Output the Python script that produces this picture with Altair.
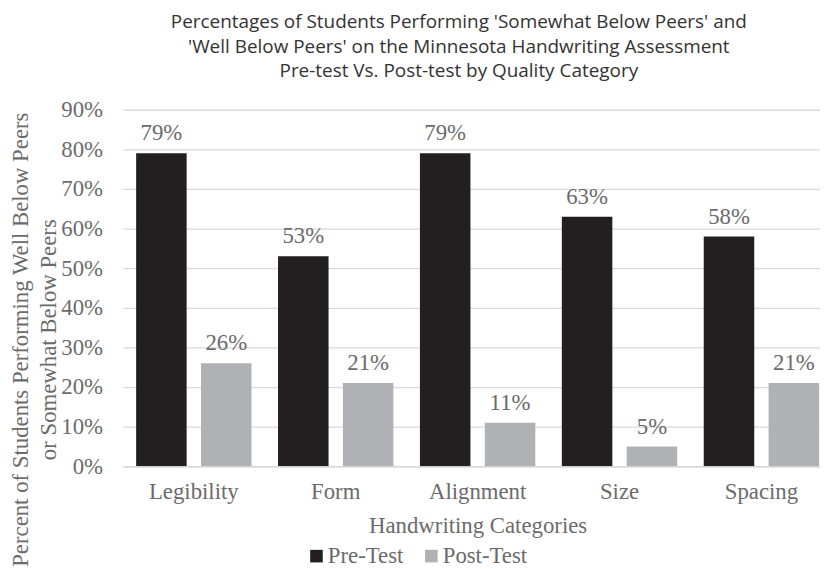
import altair as alt
import pandas as pd

categories = ["Legibility", "Form", "Alignment", "Size", "Spacing"]
series = ["Pre-Test", "Post-Test"]
pre_test = [0.79, 0.53, 0.79, 0.63, 0.58]
post_test = [0.26, 0.21, 0.11, 0.05, 0.21]
y_ticks = [0.0, 0.1, 0.2, 0.3, 0.4, 0.5, 0.6, 0.7, 0.8, 0.9]
title_lines = [
    "Percentages of Students Performing 'Somewhat Below Peers' and",
    "'Well Below Peers' on the Minnesota Handwriting Assessment",
    "Pre-test Vs. Post-test by Quality Category",
]
y_title = ["Percent of Students Performing Well Below Peers", "or Somewhat Below Peers"]
x_title = "Handwriting Categories"

rows = []
for c, a, b in zip(categories, pre_test, post_test):
    rows.append({"Category": c, "Test": series[0], "Value": a})
    rows.append({"Category": c, "Test": series[1], "Value": b})
df = pd.DataFrame(rows)

SERIF = "Liberation Serif"
TXT = "#6b6b6b"
GRID = "#d9d9d9"
FS = 23

x_enc = alt.X(
    "Category:N",
    sort=categories,
    scale=alt.Scale(paddingInner=0, paddingOuter=0),
    axis=alt.Axis(
        title=x_title,
        labelAngle=0,
        ticks=False,
        domainColor=GRID,
        domainWidth=1.5,
        labelPadding=15,
        titlePadding=11,
        labelFont=SERIF,
        labelFontSize=FS,
        labelColor=TXT,
        titleFont=SERIF,
        titleFontSize=FS,
        titleColor=TXT,
        titleFontWeight="normal",
    ),
)
xoff_enc = alt.XOffset(
    "Test:N", sort=series, scale=alt.Scale(paddingInner=0.2214, paddingOuter=0.2045)
)
y_enc = alt.Y(
    "Value:Q",
    scale=alt.Scale(domain=[0, 0.9], nice=False),
    axis=alt.Axis(
        values=y_ticks,
        format=".0%",
        ticks=False,
        domain=False,
        gridColor=GRID,
        gridWidth=1.3,
        labelPadding=20.5,
        labelFont=SERIF,
        labelFontSize=FS,
        labelColor=TXT,
        title=y_title,
        titleFont=SERIF,
        titleFontSize=FS,
        titleColor=TXT,
        titleFontWeight="normal",
        titleX=-103,
        titleY=231.7,
        titleBaseline="middle",
        titleAlign="center",
        titleLineHeight=28,
    ),
)

bars = alt.Chart().mark_bar(clip=True).encode(
    x=x_enc,
    xOffset=xoff_enc,
    y=y_enc,
    color=alt.Color(
        "Test:N",
        sort=series,
        scale=alt.Scale(domain=series, range=["#231f20", "#b0b1b4"]),
        legend=alt.Legend(
            title=None,
            orient="none",
            legendX=184,
            legendY=439,
            direction="horizontal",
            symbolType="square",
            symbolSize=161,
            symbolStrokeWidth=0,
            labelFont=SERIF,
            labelFontSize=FS,
            labelColor=TXT,
            labelOffset=0,
            columnPadding=16,
        ),
    ),
)

labels = alt.Chart().mark_text(
    dy=-20, baseline="middle", font=SERIF, fontSize=FS, color=TXT
).encode(
    x=x_enc,
    xOffset=xoff_enc,
    y=y_enc,
    text=alt.Text("Value:Q", format=".0%"),
)

chart = (
    alt.layer(bars, labels, data=df)
    .properties(
        width=716.5,
        height=360,
        padding={"left": 116, "top": 100, "right": -12.5, "bottom": 101},
        autosize=alt.AutoSizeParams(type="none"),
        title=alt.TitleParams(
            text=title_lines,
            font="Open Sans",
            fontSize=19.1,
            fontWeight="normal",
            color="#333333",
            lineHeight=24.7,
            anchor="middle",
            dx=-19,
            offset=18,
            frame="group",
        ),
    )
    .configure_view(stroke=None)
)

chart.save("out.html", embed_options={"renderer": "svg", "actions": False})
